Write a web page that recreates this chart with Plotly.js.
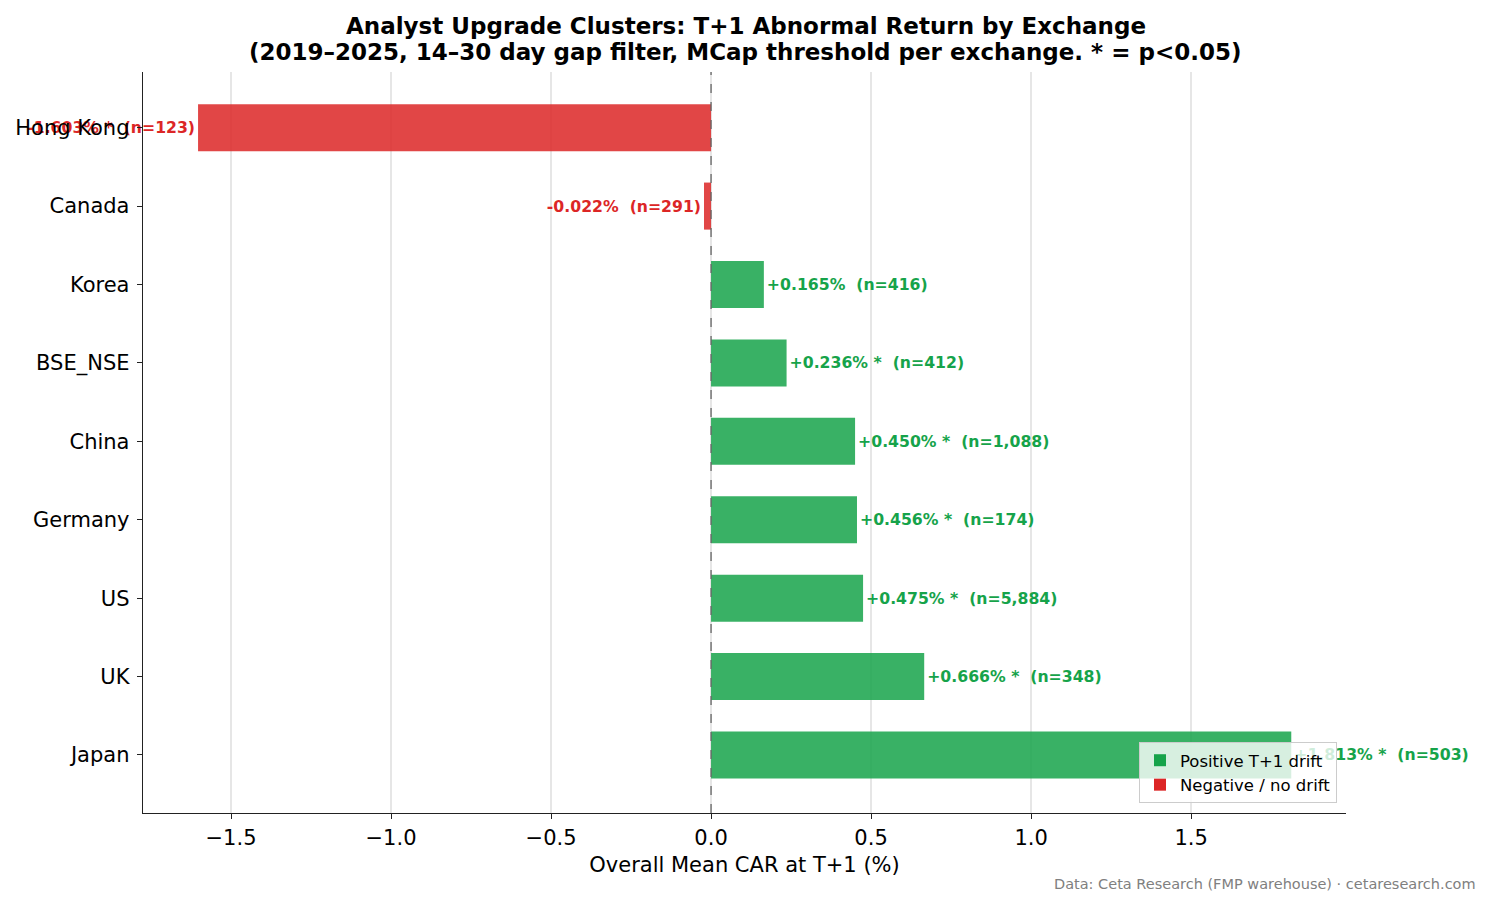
<!DOCTYPE html>
<html>
<head>
<meta charset="utf-8">
<script src="https://cdn.plot.ly/plotly-3.0.1.min.js"></script>
<style>
  body { margin: 0; background: #fff; }
  #chart { width: 1492px; height: 906px; }
</style>
</head>
<body>
<div id="chart"></div>
<script>
// bottom to top, as drawn
var exchanges = ['Japan', 'UK', 'US', 'Germany', 'China', 'BSE_NSE', 'Korea', 'Canada', 'Hong Kong'];
var meanCar = [1.813, 0.666, 0.475, 0.456, 0.450, 0.236, 0.165, -0.022, -1.603];
var nEvents = [503, 348, 5884, 174, 1088, 412, 416, 291, 123];
var significant = [true, true, true, true, true, true, false, false, true];

var titleLine1 = 'Analyst Upgrade Clusters: T+1 Abnormal Return by Exchange';
var titleLine2 = '(2019\u20132025, 14\u201330 day gap filter, MCap threshold per exchange. * = p<0.05)';

var GREEN = '#16a34a';
var RED = '#dc2626';

function makeLabel(i)
{
    var v = meanCar[i];
    var s = (v >= 0 ? '+' : '') + v.toFixed(3) + '%';
    if (significant[i])
        s += ' *';
    s += '\u00a0 (n=' + nEvents[i].toLocaleString('en-US') + ')';
    return s;
}

var pos = {y: [], x: [], text: []};
var neg = {y: [], x: [], text: []};
for (var iii = 0; iii < exchanges.length; iii++)
{
    var target = meanCar[iii] > 0 ? pos : neg;
    target.y.push(exchanges[iii]);
    target.x.push(meanCar[iii]);
    target.text.push(makeLabel(iii));
}

function barTrace(d, name, color)
{
    return {
        type: 'bar',
        orientation: 'h',
        name: name,
        y: d.y,
        x: d.x,
        width: 0.6,
        text: d.text,
        textposition: 'outside',
        constraintext: 'none',
        cliponaxis: false,
        textfont: {family: 'DejaVu Sans', size: 15.7, color: color, weight: 'bold'},
        marker: {color: color, opacity: 0.85, line: {width: 0}},
        hoverinfo: 'skip'
    };
}

var traces = [
    barTrace(pos, 'Positive T+1 drift', GREEN),
    barTrace(neg, 'Negative / no drift', RED)
];

var layout =
{
    width: 1492,
    height: 906,
    paper_bgcolor: '#ffffff',
    plot_bgcolor: '#ffffff',
    font: {family: 'DejaVu Sans', color: '#000000', size: 21},
    margin: {l: 143, r: 146, t: 72, b: 93},
    barmode: 'relative',
    showlegend: true,
    title: {
        text: '<b>' + titleLine1 + '</b>',
        font: {family: 'DejaVu Sans', size: 23, color: '#000000'},
        x: 0.5,
        xanchor: 'center',
        y: 1 - 26 / 906,
        yanchor: 'middle'
    },
    xaxis: {
        range: [-1.775, 1.984],
        tick0: 0,
        dtick: 0.5,
        tickformat: '.1f',
        showgrid: true,
        gridcolor: '#e6e6e6',
        gridwidth: 1.2,
        zeroline: false,
        showline: true,
        linecolor: '#222222',
        linewidth: 1.3,
        ticks: 'outside',
        ticklen: 5,
        tickcolor: '#222222',
        tickfont: {size: 21},
        title: {text: 'Overall Mean CAR at T+1 (%)', font: {size: 21}, standoff: 8}
    },
    yaxis: {
        type: 'category',
        categoryorder: 'array',
        categoryarray: exchanges,
        range: [-0.74, 8.71],
        showgrid: false,
        zeroline: false,
        showline: true,
        linecolor: '#222222',
        linewidth: 1.3,
        ticks: 'outside',
        ticklen: 5,
        tickcolor: '#222222',
        tickfont: {size: 21},
        ticklabelstandoff: 3
    },
    legend: {
        x: 0.9925,
        y: 0.0135,
        xanchor: 'right',
        yanchor: 'bottom',
        bgcolor: 'rgba(255,255,255,0.8)',
        bordercolor: '#cccccc',
        borderwidth: 1,
        font: {size: 16.5},
        tracegroupgap: 0,
        traceorder: 'normal'
    },
    shapes: [
        {type: 'line', xref: 'x', yref: 'paper', x0: 0, x1: 0, y0: 0, y1: 1,
         layer: 'above', line: {color: '#666666', width: 1.3, dash: 'dash'}}
    ],
    annotations: [
        {text: '<b>' + titleLine2 + '</b>',
         xref: 'paper', yref: 'paper', x: 0.5, y: (813 - 52) / 741,
         xanchor: 'center', yanchor: 'middle', showarrow: false,
         font: {size: 23, color: '#000000'}},
        {text: 'Data: Ceta Research (FMP warehouse) \u00b7 cetaresearch.com',
         xref: 'paper', yref: 'paper', x: 1.1097, y: -0.0958,
         xanchor: 'right', yanchor: 'middle', showarrow: false,
         font: {size: 14.5, color: '#808080'}}
    ]
};

Plotly.newPlot('chart', traces, layout, {displayModeBar: false, staticPlot: true});
</script>
</body>
</html>
